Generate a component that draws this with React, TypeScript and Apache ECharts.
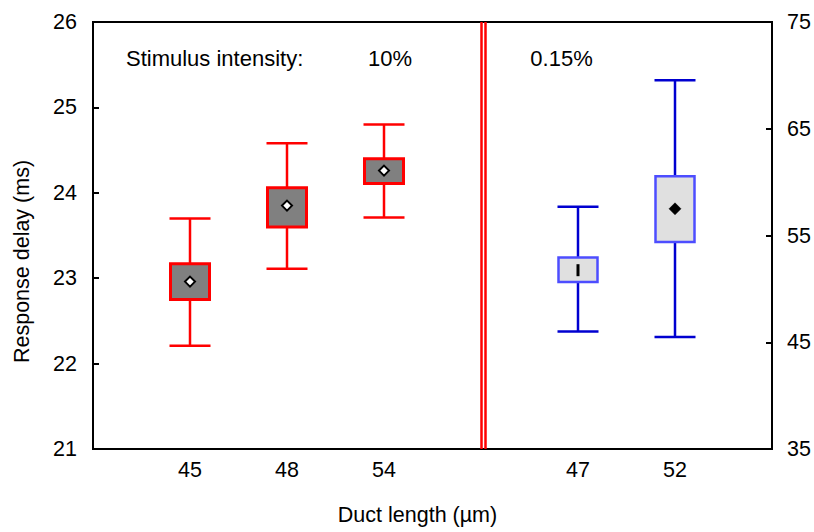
import React, { useEffect, useRef } from "react";
import * as echarts from "echarts";

// ---- data ----
const redLabels = ["45", "48", "54"];
const redPos = [1, 2, 3];
const redLow = [22.21, 23.11, 23.71];
const redQ1 = [22.75, 23.6, 24.11];
const redQ3 = [23.17, 24.06, 24.4];
const redHigh = [23.7, 24.58, 24.8];
const redMean = [22.96, 23.85, 24.26];

const blueLabels = ["47", "52"];
const bluePos = [5, 6];
const blueLow = [46.0, 45.5];
const blueQ1 = [50.65, 54.4];
const blueQ3 = [52.95, 60.55];
const blueHigh = [57.7, 69.55];
const blueMean = [51.75, 57.5];
const blueMeanShape = ["bar", "solid"];
const redMeanShape = ["open", "open", "open"];

const dividerPos = [3.995, 4.04];
const leftTicks = [21, 26, 1];
const rightTicks = [35, 75, 10];

const FONT = "'Liberation Sans', Arial, sans-serif";

function makeRender(cfg: {
  whisker: string;
  boxStroke: string;
  boxFill: string;
  boxLW: number;
  shapes: string[];
}) {
  return (params: any, api: any) => {
    const x = api.value(0);
    const lo = api.coord([x, api.value(1)]);
    const q1 = api.coord([x, api.value(2)]);
    const q3 = api.coord([x, api.value(3)]);
    const hi = api.coord([x, api.value(4)]);
    const mn = api.coord([x, api.value(5)]);
    const cx = lo[0];
    const bw = 39;
    const cw = 41;
    const wl = 2.5;
    const children: any[] = [
      { type: "line", shape: { x1: cx, y1: hi[1], x2: cx, y2: q3[1] }, style: { stroke: cfg.whisker, lineWidth: wl } },
      { type: "line", shape: { x1: cx, y1: q1[1], x2: cx, y2: lo[1] }, style: { stroke: cfg.whisker, lineWidth: wl } },
      { type: "line", shape: { x1: cx - cw / 2, y1: hi[1], x2: cx + cw / 2, y2: hi[1] }, style: { stroke: cfg.whisker, lineWidth: wl } },
      { type: "line", shape: { x1: cx - cw / 2, y1: lo[1], x2: cx + cw / 2, y2: lo[1] }, style: { stroke: cfg.whisker, lineWidth: wl } },
      {
        type: "rect",
        shape: { x: cx - bw / 2, y: q3[1], width: bw, height: q1[1] - q3[1] },
        style: { fill: cfg.boxFill, stroke: cfg.boxStroke, lineWidth: cfg.boxLW },
      },
    ];
    const shape = cfg.shapes[params.dataIndex];
    const my = mn[1];
    if (shape === "open") {
      const r = 5;
      children.push({
        type: "polygon",
        shape: { points: [[cx, my - r], [cx + r, my], [cx, my + r], [cx - r, my]] },
        style: { fill: "#fff", stroke: "#000", lineWidth: 2 },
      });
    } else if (shape === "solid") {
      const r = 6;
      children.push({
        type: "polygon",
        shape: { points: [[cx, my - r], [cx + r, my], [cx, my + r], [cx - r, my]] },
        style: { fill: "#000", stroke: "#000", lineWidth: 0.5 },
      });
    } else if (shape === "bar") {
      children.push({
        type: "rect",
        shape: { x: cx - 1.5, y: my - 6, width: 3, height: 12 },
        style: { fill: "#000" },
      });
    }
    return { type: "group", children };
  };
}

export default function App() {
  const ref = useRef<HTMLDivElement>(null);
  useEffect(() => {
    if (!ref.current) return;
    const chart = echarts.init(ref.current, undefined, { renderer: "svg" });
    const labelMap: Record<number, string> = {};
    redPos.forEach((p, i) => (labelMap[p] = redLabels[i]));
    bluePos.forEach((p, i) => (labelMap[p] = blueLabels[i]));
    const redData = redPos.map((p, i) => [p, redLow[i], redQ1[i], redQ3[i], redHigh[i], redMean[i]]);
    const blueData = bluePos.map((p, i) => [p, blueLow[i], blueQ1[i], blueQ3[i], blueHigh[i], blueMean[i]]);
    const axisText = { color: "#000", fontSize: 21.5, fontFamily: FONT };
    chart.setOption({
      animation: false,
      backgroundColor: "#fff",
      grid: {
        left: 93,
        right: 42,
        top: 22,
        bottom: 83,
        show: true,
        borderColor: "#000",
        borderWidth: 2,
        backgroundColor: "transparent",
        outerBoundsMode: "none",
      },
      xAxis: {
        type: "value",
        min: 0,
        max: 7,
        interval: 1,
        name: "Duct length (µm)",
        nameLocation: "middle",
        nameGap: 55,
        nameTextStyle: { ...axisText, padding: [0, 30, 0, 0] },
        axisLine: { show: true, lineStyle: { color: "#000", width: 2 } },
        axisTick: { show: false },
        splitLine: { show: false },
        axisLabel: {
          ...axisText,
          margin: 10,
          formatter: (v: number) => labelMap[v] ?? "",
        },
      },
      yAxis: [
        {
          type: "value",
          min: leftTicks[0],
          max: leftTicks[1],
          interval: leftTicks[2],
          position: "left",
          name: "Response delay (ms)",
          nameLocation: "middle",
          nameGap: 60,
          nameTextStyle: { ...axisText, padding: [0, 52, 0, 0] },
          axisLine: { show: true, lineStyle: { color: "#000", width: 2 } },
          axisTick: { show: true, inside: true, length: 6, lineStyle: { color: "#000", width: 2 } },
          splitLine: { show: false },
          axisLabel: { ...axisText, margin: 16 },
        },
        {
          type: "value",
          min: rightTicks[0],
          max: rightTicks[1],
          interval: rightTicks[2],
          position: "right",
          axisLine: { show: true, lineStyle: { color: "#000", width: 2 } },
          axisTick: { show: true, inside: true, length: 6, lineStyle: { color: "#000", width: 2 } },
          splitLine: { show: false },
          axisLabel: { ...axisText, margin: 15 },
        },
      ],
      series: [
        {
          type: "custom",
          yAxisIndex: 0,
          encode: { x: 0, y: [1, 2, 3, 4, 5] },
          renderItem: makeRender({
            whisker: "#ff0000",
            boxStroke: "#ff0000",
            boxFill: "#808080",
            boxLW: 3,
            shapes: redMeanShape,
          }),
          data: redData,
          markLine: {
            silent: true,
            symbol: "none",
            label: { show: false },
            lineStyle: { color: "#ff0000", width: 2.5, type: "solid" },
            data: dividerPos.map((p) => ({ xAxis: p })),
          },
        },
        {
          type: "custom",
          yAxisIndex: 1,
          encode: { x: 0, y: [1, 2, 3, 4, 5] },
          renderItem: makeRender({
            whisker: "#0000d0",
            boxStroke: "#4d4dff",
            boxFill: "#e0e0e0",
            boxLW: 2.5,
            shapes: blueMeanShape,
          }),
          data: blueData,
        },
      ],
      graphic: [
        {
          type: "text",
          x: 126,
          y: 58,
          style: { text: "Stimulus intensity:", fontSize: 22, fontFamily: FONT, fill: "#000", verticalAlign: "middle", align: "left" },
        },
        {
          type: "text",
          x: 390,
          y: 58,
          style: { text: "10%", fontSize: 22, fontFamily: FONT, fill: "#000", verticalAlign: "middle", align: "center" },
        },
        {
          type: "text",
          x: 561.5,
          y: 58,
          style: { text: "0.15%", fontSize: 22, fontFamily: FONT, fill: "#000", verticalAlign: "middle", align: "center" },
        },
      ],
    });
    return () => chart.dispose();
  }, []);
  return <div ref={ref} style={{ width: 814, height: 532, position: "absolute", left: 0, top: 0 }} />;
}
